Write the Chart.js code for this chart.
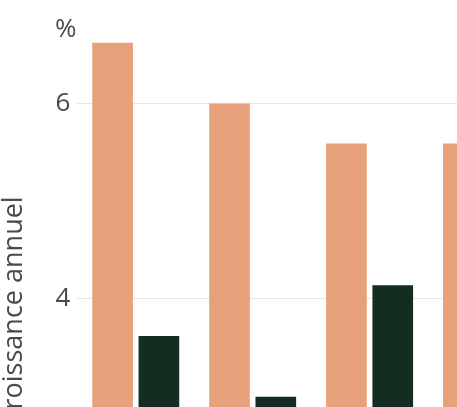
<!DOCTYPE html>
<html>
<head>
<meta charset="utf-8">
<script src="https://cdn.jsdelivr.net/npm/chart.js@4.4.1/dist/chart.umd.min.js"></script>
<style>
  html, body { margin: 0; padding: 0; background: #ffffff; overflow: hidden; width: 457px; height: 407px; }
  #wrap { position: absolute; left: -2px; top: -17px; width: 547px; height: 759px; }
</style>
</head>
<body>
<div id="wrap"><canvas id="c"></canvas></div>
<script>
const categories = ["A", "B", "C", "D"];
const seriesA = [6.62, 6.0, 5.59, 5.59];
const seriesB = [3.62, 3.0, 4.14, null];
const tickValues = [0, 2, 4, 6];
const unitLabel = "%";
const yTitle = "Taux de croissance annuel";

const unitPlugin = {
  id: "unitLabel",
  afterDraw(chart) {
    const ctx = chart.ctx;
    ctx.save();
    ctx.font = "26px 'Open Sans'";
    ctx.fillStyle = "#4a4a4a";
    ctx.textAlign = "left";
    ctx.textBaseline = "alphabetic";
    ctx.fillText(unitLabel, 57, 54);
    ctx.restore();
  }
};

new Chart(document.getElementById("c"), {
  type: "bar",
  data: {
    labels: categories,
    datasets: [
      { data: seriesA, backgroundColor: "#E6A07A", borderWidth: 0, barPercentage: 0.878, categoryPercentage: 0.792 },
      { data: seriesB, backgroundColor: "#132D21", borderWidth: 0, barPercentage: 0.878, categoryPercentage: 0.792 }
    ]
  },
  options: {
    responsive: true,
    maintainAspectRatio: false,
    animation: false,
    layout: { padding: { top: 5, right: 0, bottom: 0, left: 0 } },
    plugins: { legend: { display: false }, tooltip: { enabled: false }, title: { display: false } },
    scales: {
      x: { display: false },
      y: {
        min: -0.3,
        max: 7,
        afterBuildTicks(scale) { scale.ticks = tickValues.map(v => ({ value: v })); },
        ticks: { font: { family: "'Open Sans'", size: 26 }, color: "#4a4a4a", padding: 7 },
        grid: { color: "#e6e6e6", drawTicks: false, lineWidth: 1 },
        border: { display: false },
        title: {
          display: true,
          text: yTitle,
          font: { family: "'Open Sans'", size: 27 },
          color: "#4a4a4a",
          padding: { top: 0, bottom: 18 }
        }
      }
    }
  },
  plugins: [unitPlugin]
});
</script>
</body>
</html>
